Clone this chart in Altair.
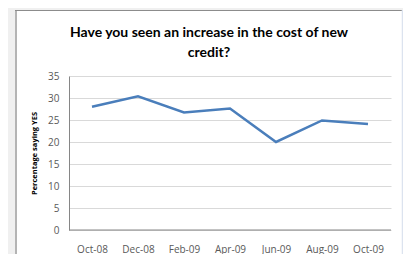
import altair as alt
import pandas as pd

months = ["Oct-08", "Dec-08", "Feb-09", "Apr-09", "Jun-09", "Aug-09", "Oct-09"]
pct_yes = [28.0, 30.4, 26.7, 27.6, 20.0, 24.9, 24.1]
y_ticks = [0, 5, 10, 15, 20, 25, 30, 35]
title_lines = ["Have you seen an increase in the cost of new", "credit?"]

df = pd.DataFrame({"month": months, "pct": pct_yes})
one = pd.DataFrame({"a": [0]})

GRAY = "#f0f0f0"

left_gray = alt.Chart(one).mark_rect(color=GRAY).encode(
    x=alt.value(-61), x2=alt.value(-54), y=alt.value(-68), y2=alt.value(178))
top_gray = alt.Chart(one).mark_rect(color=GRAY).encode(
    x=alt.value(-61), x2=alt.value(334), y=alt.value(-68), y2=alt.value(-66))
left_border = alt.Chart(one).mark_rect(color="#b4b4b4").encode(
    x=alt.value(-54), x2=alt.value(-52), y=alt.value(-66), y2=alt.value(178))
top_border = alt.Chart(one).mark_rule(color="#8c8c8c", strokeWidth=1).encode(
    x=alt.value(-54), x2=alt.value(333), y=alt.value(-65.5))
right_border = alt.Chart(one).mark_rule(color="#dce3ef", strokeWidth=1.5).encode(
    x=alt.value(333.5), y=alt.value(-66), y2=alt.value(178))

title1 = alt.Chart(one).mark_text(
    text=title_lines[0], font="Lato", fontSize=14, fontWeight="bold",
    color="#000000", align="center", baseline="alphabetic").encode(
    x=alt.value(140), y=alt.value(-39))
title2 = alt.Chart(one).mark_text(
    text=title_lines[1], font="Lato", fontSize=14, fontWeight="bold",
    color="#000000", align="center", baseline="alphabetic").encode(
    x=alt.value(140), y=alt.value(-19))

line = alt.Chart(df).mark_line(color="#4a7ebb", strokeWidth=2.5).encode(
    x=alt.X("month:N", sort=months,
            scale=alt.Scale(type="point", padding=0.5),
            axis=alt.Axis(title=None, labelAngle=0, ticks=False, domain=False,
                          labelPadding=14, labelFontSize=10, labelFont="Open Sans",
                          labelColor="#595959", grid=False)),
    y=alt.Y("pct:Q", scale=alt.Scale(domain=[0, 35], nice=False),
            axis=alt.Axis(values=y_ticks, title="Percentage saying YES",
                          titleFont="Open Sans", titleFontSize=7.5, titleFontWeight="bold",
                          titleColor="#000000", titleX=-35, titleY=77, titleAngle=-90,
                          titleAlign="center", titleBaseline="middle",
                          labelFont="Open Sans", labelFontSize=10, labelColor="#595959",
                          labelPadding=10, ticks=False, domainColor="#868686",
                          gridColor="#d9d9d9", gridWidth=1.2)),
)

xdomain = alt.Chart(one).mark_rule(color="#868686", strokeWidth=1).encode(
    x=alt.value(0), x2=alt.value(322), y=alt.value(154))

chart = alt.layer(left_gray, top_gray, left_border, top_border, right_border,
                  title1, title2, xdomain, line).properties(
    width=322, height=154,
    autosize=alt.AutoSizeParams(type="none"),
    padding={"left": 61, "top": 68, "right": 12, "bottom": 24},
    background="white",
).configure_view(stroke=None)

chart.save("out.html", embed_options={"renderer": "svg", "actions": False})
